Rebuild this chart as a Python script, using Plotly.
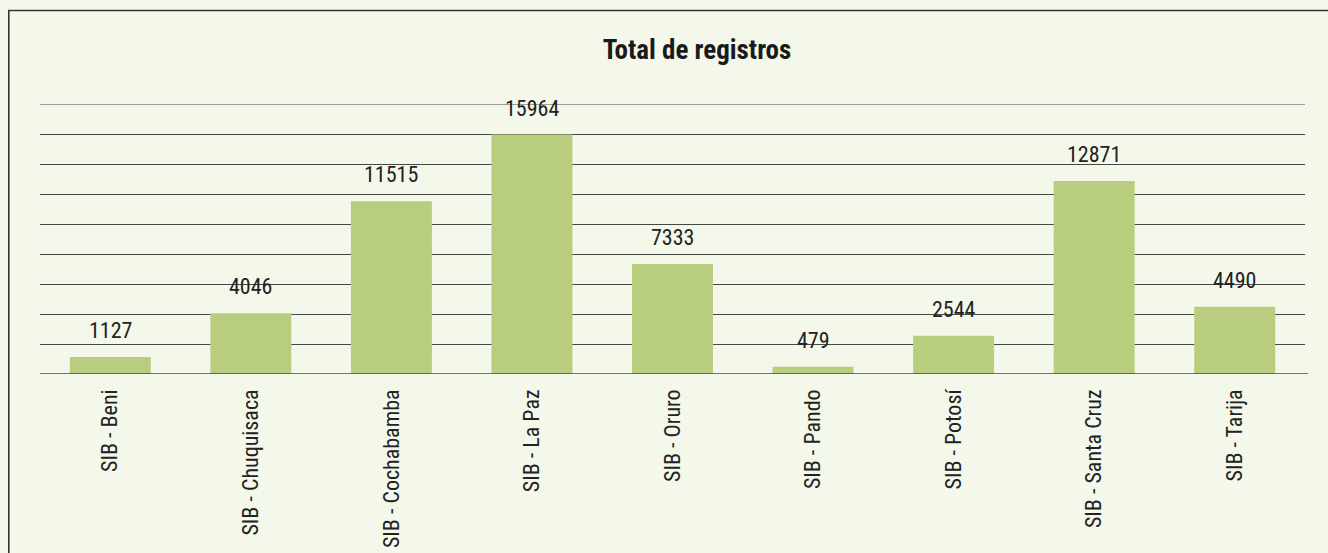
import plotly.graph_objects as go

categories = ["SIB - Beni", "SIB - Chuquisaca", "SIB - Cochabamba", "SIB - La Paz",
              "SIB - Oruro", "SIB - Pando", "SIB - Potosí", "SIB - Santa Cruz", "SIB - Tarija"]
values = [1127, 4046, 11515, 15964, 7333, 479, 2544, 12871, 4490]
title_text = "Total de registros"

FONT = "Liberation Sans Narrow, Arial Narrow, Roboto Condensed, sans-serif"
BG = "#f4f8ea"
BAR = "#b8cd7d"
GRID = "#474747"

fig = go.Figure()
fig.add_trace(go.Bar(x=categories, y=values, marker=dict(color=BAR, line=dict(width=0)),
                     hoverinfo="x+y"))

for c, v in zip(categories, values):
    fig.add_annotation(x=c, y=v, text=str(v), showarrow=False, yanchor="bottom",
                       yshift=12, font=dict(family=FONT, size=22, color="#222222"))

fig.update_layout(
    width=1328, height=553,
    margin=dict(l=40, r=23, t=104, b=179, autoexpand=False),
    paper_bgcolor=BG, plot_bgcolor=BG,
    bargap=0.424,
    showlegend=False,
    font=dict(family=FONT, size=22, color="#222222"),
    title=dict(text="<b>" + title_text + "</b>", x=697 / 1328, xanchor="center",
               xref="container", yref="container", y=1 - 50 / 553, yanchor="middle",
               font=dict(family=FONT, size=27, color="#1a1a1a")),
    xaxis=dict(tickangle=-90, showgrid=False, showline=False, ticks="", automargin=False,
               ticklabelstandoff=10, tickfont=dict(family=FONT, size=22, color="#222222")),
    yaxis=dict(range=[0, 18000], dtick=2000, showgrid=True, gridcolor=GRID, gridwidth=1.2,
               zeroline=False, showticklabels=False, ticks="", fixedrange=True,
               automargin=False),
    shapes=[
        dict(type="rect", xref="paper", yref="paper",
             x0=(8.8 - 40) / 1265, x1=(1400 - 40) / 1265,
             y0=-1.0, y1=1 + (104 - 10.5) / 270,
             line=dict(color="#333333", width=1.6), fillcolor="rgba(0,0,0,0)", layer="below"),
        dict(type="line", xref="paper", yref="y", x0=0, x1=1, y0=18000, y1=18000,
             line=dict(color=GRID, width=1.2), layer="below"),
        dict(type="line", xref="paper", yref="y", x0=0, x1=(1308 - 40) / 1265, y0=0, y1=0,
             line=dict(color=GRID, width=1.5), layer="above"),
    ],
)

fig.write_html(
    "out.html",
    config={"displayModeBar": False},
    post_script="document.body.style.margin='0';document.body.style.background='#f4f8ea';",
)
